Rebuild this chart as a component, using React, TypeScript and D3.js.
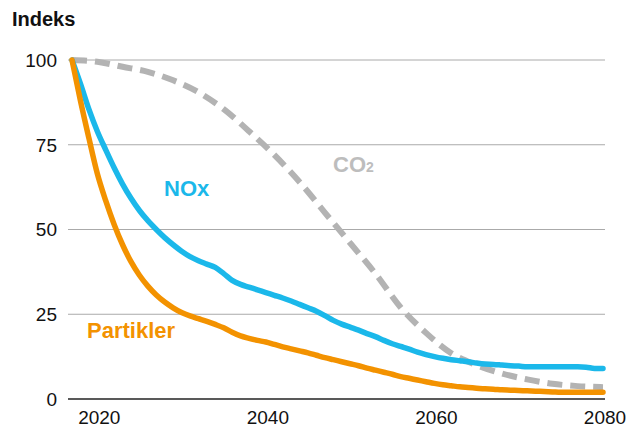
import React from "react";
import * as d3 from "d3";

const years: number[] = d3.range(2017, 2081);

const noxValues: number[] = [
  100, 93, 85.5, 79, 73.5, 68.2, 63.4, 59.2, 55.6, 52.6, 50, 47.6, 45.5, 43.6, 42, 40.8, 39.8, 38.8, 37, 35,
  33.8, 33, 32.2, 31.4, 30.6, 29.8, 28.9, 27.9, 26.9, 25.9, 24.6, 23.2, 22.1, 21.2, 20.3, 19.3, 18.4, 17.3,
  16.3, 15.5, 14.7, 13.8, 13.1, 12.5, 12, 11.6, 11.3, 11, 10.6, 10.3, 10.2, 10, 9.8, 9.7, 9.5, 9.5, 9.5,
  9.5, 9.5, 9.5, 9.5, 9.4, 9.0, 9.0,
];

const partiklerValues: number[] = [
  100, 88, 77, 66.5, 58.5, 51.5, 45.5, 40.5, 36.5, 33.3, 30.7, 28.6, 26.9, 25.5, 24.5, 23.7, 22.9, 22, 21,
  19.7, 18.6, 17.9, 17.3, 16.8, 16.1, 15.4, 14.8, 14.2, 13.6, 12.9, 12.2, 11.6, 11, 10.4, 9.8, 9.1, 8.5,
  7.9, 7.3, 6.6, 6.1, 5.6, 5.1, 4.6, 4.2, 3.9, 3.6, 3.4, 3.2, 3.0, 2.9, 2.7, 2.6, 2.5, 2.4, 2.3, 2.2, 2.1,
  2.0, 2.0, 2.0, 2.0, 2.0, 2.0,
];

const co2Years: number[] = [
  2017, 2020, 2023, 2026, 2029, 2032, 2035, 2038, 2041, 2044, 2047, 2050, 2053, 2056, 2059, 2062,
  2065, 2068, 2071, 2074, 2077, 2080,
];
const co2Values: number[] = [
  100, 99.5, 98, 96.5, 94, 90.5, 85.5, 79, 72, 64, 55, 46, 37, 27, 19.5, 13.5, 10, 7.5, 5.8, 4.5, 3.8,
  3.5,
];

const yTicks: number[] = [0, 25, 50, 75, 100];
const xTicks: number[] = [2020, 2040, 2060, 2080];

const COL_NOX = "#1bb8ea";
const COL_PART = "#f39200";
const COL_CO2 = "#b3b3b3";
const FONT = "'Liberation Sans', Arial, Helvetica, sans-serif";

export default function App() {
  const width = 643;
  const height = 429;
  const x = d3.scaleLinear().domain([2017, 2080]).range([72, 603]);
  const y = d3.scaleLinear().domain([0, 100]).range([399, 60]);
  const gridX0 = 68;
  const gridX1 = 605;

  const line = d3
    .line<[number, number]>()
    .x((d) => x(d[0]))
    .y((d) => y(d[1]))
    .curve(d3.curveMonotoneX);

  const noxPts: [number, number][] = years.map((yr, i) => [yr, noxValues[i]]);
  const partPts: [number, number][] = years.map((yr, i) => [yr, partiklerValues[i]]);
  const co2Pts: [number, number][] = co2Years.map((yr, i) => [yr, co2Values[i]]);

  return (
    <svg
      width={width}
      height={height}
      style={{ position: "absolute", left: 0, top: 0, background: "#fff" }}
      fontFamily={FONT}
    >
      <rect width={width} height={height} fill="#fff" />
      <text x={12} y={26} fontSize={20} fontWeight="bold" fill="#111">
        Indeks
      </text>
      {yTicks.map((t) => (
        <g key={t}>
          <line
            x1={gridX0}
            x2={gridX1}
            y1={y(t)}
            y2={y(t)}
            stroke={t === 0 ? "#222" : "#aaaaaa"}
            strokeWidth={t === 0 ? 1.6 : 1}
          />
          <text x={57} y={y(t)} dy="0.36em" fontSize={19} textAnchor="end" fill="#111">
            {t}
          </text>
        </g>
      ))}
      {xTicks.map((t) => (
        <text key={t} x={x(t) + 2} y={424} fontSize={19} textAnchor="middle" fill="#111">
          {t}
        </text>
      ))}
      <path
        d={line(co2Pts) || ""}
        fill="none"
        stroke={COL_CO2}
        strokeWidth={6}
        strokeDasharray="15 8"
      />
      <path
        d={line(noxPts) || ""}
        fill="none"
        stroke={COL_NOX}
        strokeWidth={5.5}
        strokeLinejoin="round"
        strokeLinecap="round"
      />
      <path
        d={line(partPts) || ""}
        fill="none"
        stroke={COL_PART}
        strokeWidth={5.5}
        strokeLinejoin="round"
        strokeLinecap="round"
      />
      <text x={164} y={196} fontSize={22} fontWeight="bold" fill={COL_NOX}>
        NOx
      </text>
      <text x={87} y={338} fontSize={22} fontWeight="bold" fill={COL_PART}>
        Partikler
      </text>
      <text x={333} y={172} fontSize={22} fontWeight="bold" fill="#bdbdbd">
        CO
        <tspan fontSize={14} dy={0}>
          2
        </tspan>
      </text>
    </svg>
  );
}
